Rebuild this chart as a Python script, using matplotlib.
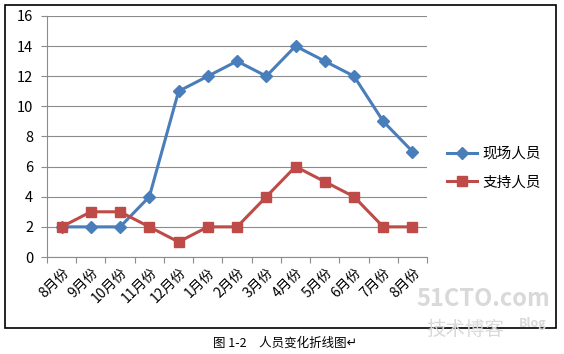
import matplotlib
matplotlib.use("Agg")
import matplotlib.pyplot as plt
from matplotlib.patches import Rectangle

plt.rcParams['font.family'] = ['Noto Sans CJK SC', 'DejaVu Sans']

months = ["8月份", "9月份", "10月份", "11月份", "12月份", "1月份", "2月份",
          "3月份", "4月份", "5月份", "6月份", "7月份", "8月份"]
onsite = [2, 2, 2, 4, 11, 12, 13, 12, 14, 13, 12, 9, 7]
support = [2, 3, 3, 2, 1, 2, 2, 4, 6, 5, 4, 2, 2]
yticks = [0, 2, 4, 6, 8, 10, 12, 14, 16]

fig = plt.figure(figsize=(5.64, 3.54), dpi=100)
ax = fig.add_axes([0.0833, 0.274, 0.674, 0.681])

x = list(range(len(months)))
ax.plot(x, onsite, color="#4A7EBB", lw=2.2, marker="D", ms=6, label="现场人员")
ax.plot(x, support, color="#BE4B48", lw=2.2, marker="s", ms=7, label="支持人员")

ax.set_xlim(-0.5, len(months) - 0.5)
ax.set_ylim(0, 16)
ax.set_yticks(yticks)
ax.set_yticklabels([str(v) for v in yticks], fontsize=10.5)
ax.yaxis.grid(True, color="#8c8c8c", lw=0.8)
ax.set_axisbelow(True)

ax.set_xticks([i - 0.5 for i in range(len(months) + 1)])
ax.set_xticklabels([])
ax.set_xticks(x, minor=True)
ax.set_xticklabels(months, minor=True, rotation=45, ha="right", va="top",
                   rotation_mode="anchor", fontsize=10)
ax.tick_params(axis="x", which="minor", length=0, pad=6)
ax.tick_params(axis="x", which="major", length=4, color="#8c8c8c")
ax.tick_params(axis="y", length=4, color="#8c8c8c", pad=6)

for s in ["top", "right"]:
    ax.spines[s].set_visible(False)
ax.spines["left"].set_color("#8c8c8c")
ax.spines["bottom"].set_color("#8c8c8c")

fig.legend(loc="center left", bbox_to_anchor=(0.77, 0.525), frameon=False,
           fontsize=10.5, handlelength=2.0, handletextpad=0.4, labelspacing=1.0)

fig.patches.append(Rectangle((0.009, 0.073), 0.977, 0.913, transform=fig.transFigure,
                             fill=False, edgecolor="black", lw=1.2))

fig.text(0.975, 0.155, "51CTO.com", ha="right", va="center", fontsize=17,
         fontweight="bold", color="#d9d9d9")
fig.text(0.755, 0.07, "技术博客", ha="left", va="center", fontsize=14, color="#d9d9d9")
fig.text(0.97, 0.085, "Blog", ha="right", va="center", fontsize=9,
         fontweight="bold", color="#d9d9d9")

fig.text(0.505, 0.03, "图 1-2　人员变化折线图↵", ha="center", va="center", fontsize=9)

fig.savefig("out.png", dpi=100)
